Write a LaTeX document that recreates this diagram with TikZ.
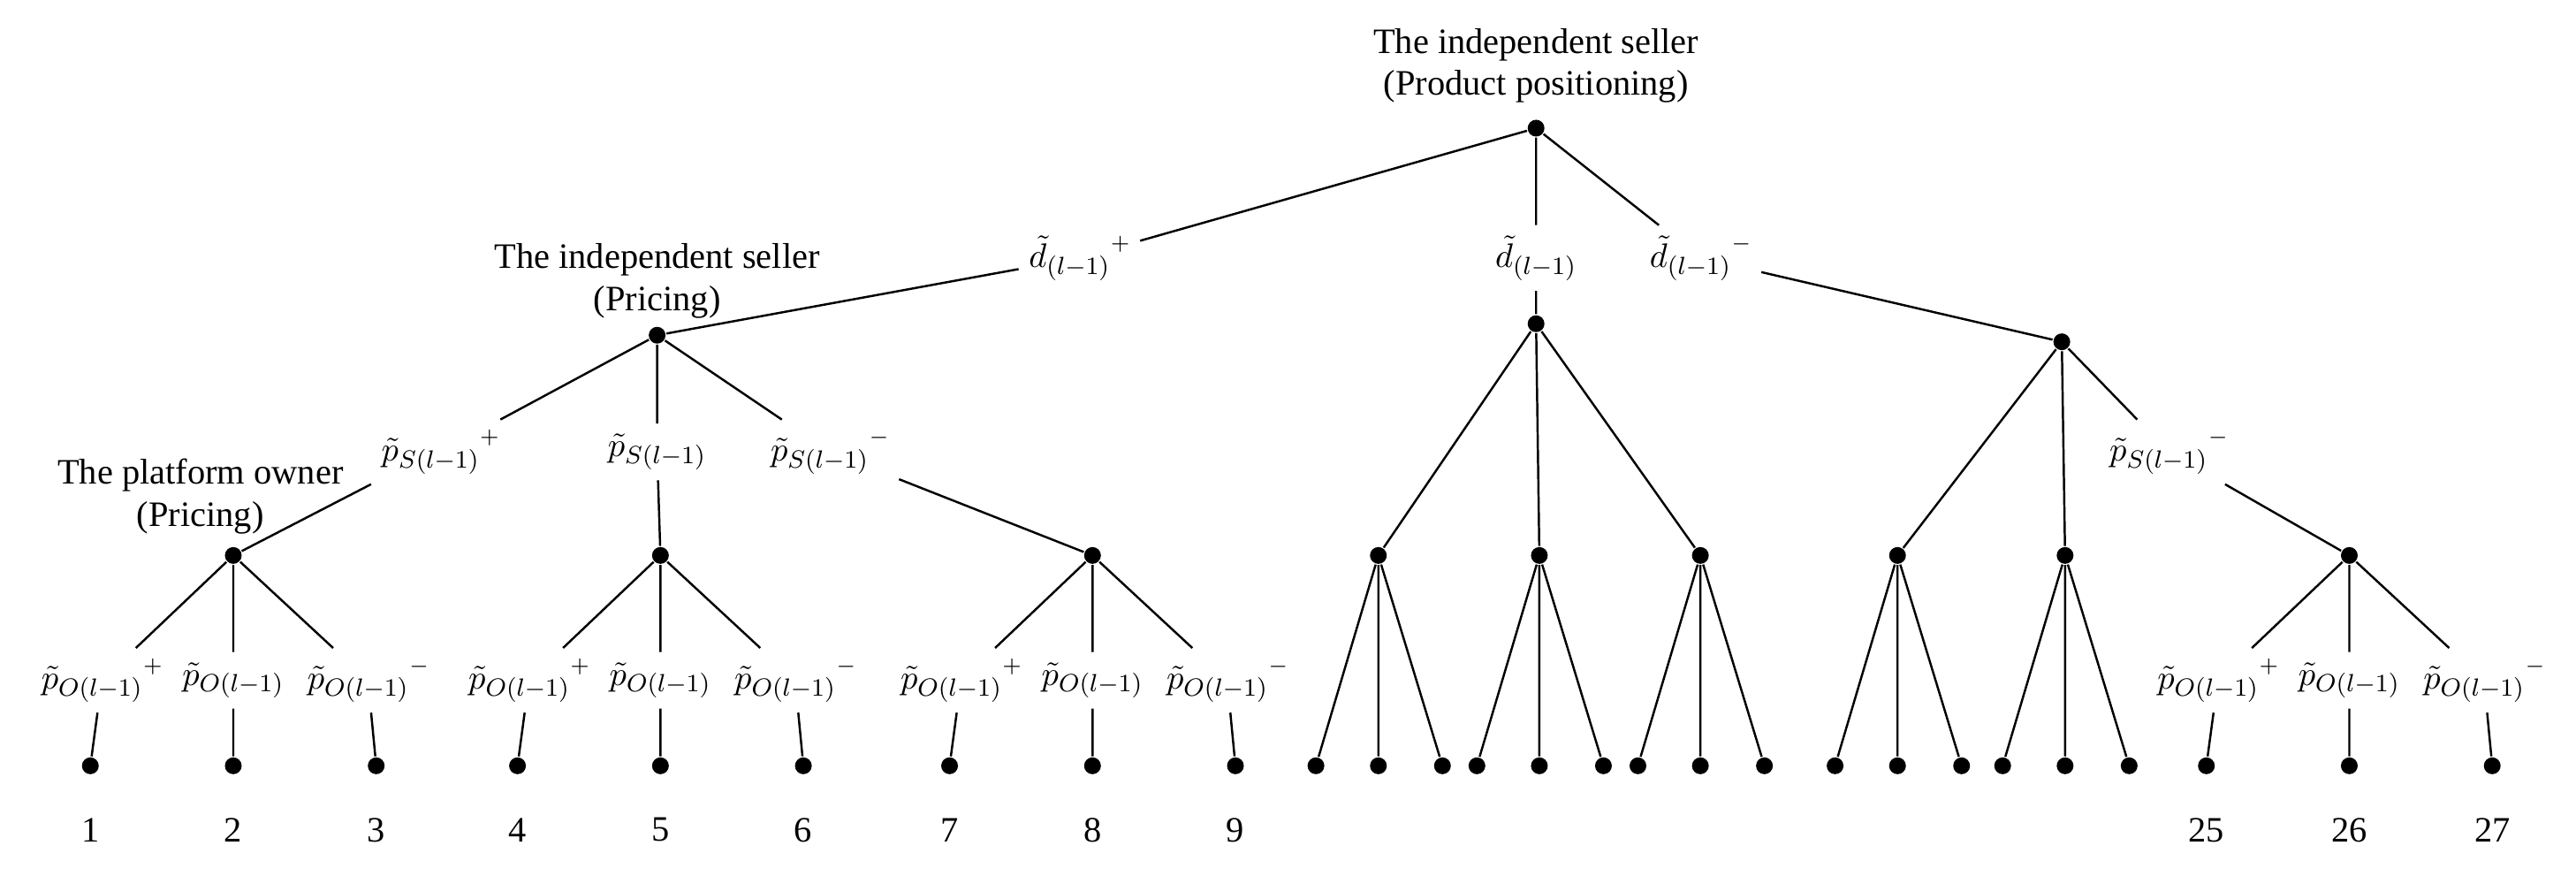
\documentclass[tikz,border=0pt]{standalone}
\usepackage{fontspec}
\setmainfont{Liberation Serif}
\newcommand{\spl}[1]{\raisebox{1.1ex}{\scriptsize$#1$}}
\begin{document}
\begin{tikzpicture}[x=0.01859cm,y=-0.01859cm,
  dot/.style={circle,fill=black,inner sep=0pt,minimum size=0.19cm},
  lab/.style={inner sep=3pt,font=\fontsize{11}{13}\selectfont},
  txt/.style={align=center,font=\fontsize{11.5}{13.5}\selectfont},
  every path/.style={line width=0.7pt}]
\useasboundingbox (0,0) rectangle (1568,532.6);
% root
\node[txt] at (935,40) {The independent seller\\(Product positioning)};
\node[dot] (r) at (935,78) {};
\node[lab] (dp) at (657,157) {$\tilde d_{(l-1)}$\spl{+}};
\node[lab] (d0) at (935,157) {$\tilde d_{(l-1)}$};
\node[lab] (dm) at (1035,157) {$\tilde d_{(l-1)}$\spl{-}};
\draw (r)--(dp) (r)--(d0) (r)--(dm);
% level 2
\node[txt] at (400,171) {The independent seller\\(Pricing)};
\node[dot] (A) at (400,204) {};
\node[dot] (B) at (935,197) {};
\node[dot] (C) at (1255,208) {};
\draw (dp)--(A) (d0)--(B) (dm)--(C);
\node[lab] (sA1) at (268,275) {$\tilde p_{S(l-1)}$\spl{+}};
\node[lab] (sA2) at (400,275) {$\tilde p_{S(l-1)}$};
\node[lab] (sA3) at (505,275) {$\tilde p_{S(l-1)}$\spl{-}};
\node[lab] (sC3) at (1320,275) {$\tilde p_{S(l-1)}$\spl{-}};
\draw (A)--(sA1) (A)--(sA2) (A)--(sA3) (C)--(sC3);
% level 3
\node[txt] at (122,302) {The platform owner\\(Pricing)};
\node[dot] (a1) at (142,338) {};
\node[dot] (a2) at (402,338) {};
\node[dot] (a3) at (665,338) {};
\node[dot] (b1) at (839,338) {};
\node[dot] (b2) at (937,338) {};
\node[dot] (b3) at (1035,338) {};
\node[dot] (c1) at (1155,338) {};
\node[dot] (c2) at (1257,338) {};
\node[dot] (c3) at (1430,338) {};
\draw (sA1.south west)--(a1) (sA2)--(a2) (sA3)--(a3);
\draw (B)--(b1) (B)--(b2) (B)--(b3) (C)--(c1) (C)--(c2) (sC3)--(c3);
% labelled subtrees
\foreach \p/\x in {a1/142,a2/402,a3/665,c3/1430}{
  \node[lab] (\p l1) at (\x-80,414) {$\tilde p_{O(l-1)}$\spl{+}};
  \node[lab] (\p l2) at (\x,414) {$\tilde p_{O(l-1)}$};
  \node[lab] (\p l3) at (\x+82,414) {$\tilde p_{O(l-1)}$\spl{-}};
  \node[dot] (\p f1) at (\x-87,466) {};
  \node[dot] (\p f2) at (\x,466) {};
  \node[dot] (\p f3) at (\x+87,466) {};
  \draw (\p)--(\p l1) (\p)--(\p l2) (\p)--(\p l3)
        (\p l1)--(\p f1) (\p l2)--(\p f2) (\p l3)--(\p f3);
}
% unlabelled subtrees
\foreach \p/\x in {b1/839,b2/937,b3/1035,c1/1155,c2/1257}{
  \node[dot] (\p f1) at (\x-38,466) {};
  \node[dot] (\p f2) at (\x,466) {};
  \node[dot] (\p f3) at (\x+39,466) {};
  \draw (\p)--(\p f1) (\p)--(\p f2) (\p)--(\p f3);
}
% numbers
\foreach \p/\x/\n in {1/55/1,2/142/2,3/229/3,4/315/4,5/402/5,6/489/6,7/578/7,8/665/8,9/752/9,25/1343/25,26/1430/26,27/1517/27}{
  \node[txt] (n\p) at (\x,505) {\n};
}
\end{tikzpicture}
\end{document}
